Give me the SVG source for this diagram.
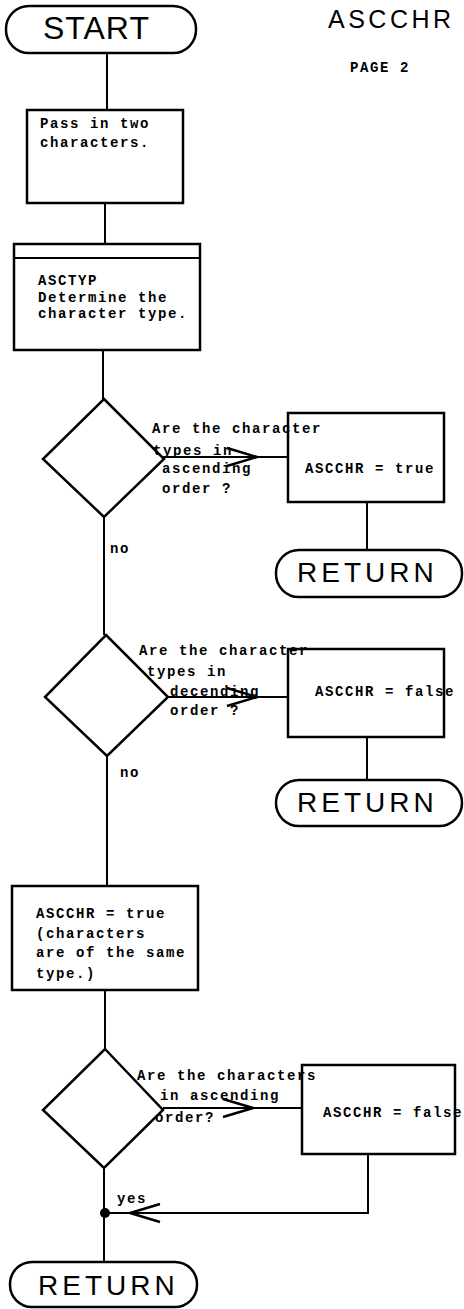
<svg xmlns="http://www.w3.org/2000/svg" width="464" height="1309" viewBox="0 0 464 1309">
<style>
.b{fill:none;stroke:#000;stroke-width:2.5}
.c{fill:none;stroke:#000;stroke-width:2}
.t{font-family:"Liberation Mono",monospace;font-weight:bold;font-size:14px;letter-spacing:1.6px;fill:#000}
.term{font-family:"Liberation Sans",Arial,sans-serif;fill:#000}
</style>
<defs>
<marker id="v" markerUnits="userSpaceOnUse" markerWidth="40" markerHeight="30" refX="0" refY="0" orient="auto" overflow="visible" viewBox="-35 -15 40 30">
<path d="M-30,-9 L0,0 L-30,9" fill="none" stroke="#000" stroke-width="2.5"/>
</marker>
</defs>
<rect width="464" height="1309" fill="#fff"/>
<g id="title">
<text class="term" x="328" y="28" font-size="25" letter-spacing="3.5">ASCCHR</text>
<text class="t" x="350" y="72" font-size="11" letter-spacing="4">PAGE 2</text>
</g>
<g id="connectors">
<path class="c" d="M107,53 V110"/>
<path class="c" d="M105,203 V244"/>
<path class="c" d="M103,350 V400"/>
<path class="c" d="M163,457 L257,457 L288,457" marker-mid="url(#v)"/>
<path class="c" d="M367,502 V550"/>
<path class="c" d="M104,517 V635"/>
<path class="c" d="M168,697 L257,697 L288,697" marker-mid="url(#v)"/>
<path class="c" d="M367,737 V780"/>
<path class="c" d="M107,756 V886"/>
<path class="c" d="M105,990 V1049"/>
<path class="c" d="M163,1108 L253,1108 L302,1108" marker-mid="url(#v)"/>
<path class="c" d="M368,1154 V1213 H130"/>
<path class="c" d="M160,1213 L130,1213 L105,1213" marker-mid="url(#v)"/>
<path class="c" d="M104,1168 V1262"/>
<circle cx="105" cy="1213" r="5" fill="#000"/>
<text class="t" x="110" y="553">no</text>
<text class="t" x="120" y="777">no</text>
<text class="t" x="117" y="1203">yes</text>
</g>
<g id="start">
<rect class="b" x="6" y="6" width="190" height="47" rx="23"/>
<text class="term" x="43" y="39" font-size="32" letter-spacing="1">START</text>
</g>
<g id="pass">
<rect class="b" x="27" y="110" width="156" height="93"/>
<text class="t" x="40" y="128">Pass in two</text>
<text class="t" x="40" y="147">characters.</text>
</g>
<g id="asctyp">
<rect class="b" x="14" y="244" width="186" height="106"/>
<line class="c" x1="14" y1="258" x2="200" y2="258"/>
<text class="t" x="38" y="285">ASCTYP</text>
<text class="t" x="38" y="302">Determine the</text>
<text class="t" x="38" y="318">character type.</text>
</g>
<g id="dec1">
<path class="b" d="M104,399 L164,459 L104,517 L43,459 Z"/>
<text class="t" x="152" y="433">Are the character</text>
<text class="t" x="153" y="455">types in</text>
<text class="t" x="162" y="473">ascending</text>
<text class="t" x="162" y="493">order ?</text>
</g>
<g id="true1">
<rect class="b" x="288" y="413" width="156" height="89"/>
<text class="t" x="305" y="473">ASCCHR = true</text>
</g>
<g id="ret1">
<rect class="b" x="276" y="550" width="186" height="47" rx="23"/>
<text class="term" x="297" y="582" font-size="28" letter-spacing="4">RETURN</text>
</g>
<g id="dec2">
<path class="b" d="M106,635 L168,697 L107,756 L45,697 Z"/>
<text class="t" x="139" y="655">Are the character</text>
<text class="t" x="147" y="676">types in</text>
<text class="t" x="170" y="696">decending</text>
<text class="t" x="170" y="715">order ?</text>
</g>
<g id="false1">
<rect class="b" x="288" y="649" width="156" height="88"/>
<text class="t" x="315" y="696">ASCCHR = false</text>
</g>
<g id="ret2">
<rect class="b" x="276" y="780" width="186" height="46" rx="23"/>
<text class="term" x="297" y="812" font-size="28" letter-spacing="4">RETURN</text>
</g>
<g id="same">
<rect class="b" x="12" y="886" width="186" height="104"/>
<text class="t" x="36" y="918">ASCCHR = true</text>
<text class="t" x="36" y="938">(characters</text>
<text class="t" x="36" y="957">are of the same</text>
<text class="t" x="36" y="978">type.)</text>
</g>
<g id="dec3">
<path class="b" d="M105,1049 L163,1110 L104,1168 L43,1110 Z"/>
<text class="t" x="137" y="1080">Are the characters</text>
<text class="t" x="160" y="1100">in ascending</text>
<text class="t" x="155" y="1122">order?</text>
</g>
<g id="false2">
<rect class="b" x="302" y="1065" width="153" height="89"/>
<text class="t" x="323" y="1117">ASCCHR = false</text>
</g>
<g id="ret3">
<rect class="b" x="10" y="1262" width="187" height="45" rx="22"/>
<text class="term" x="38" y="1295" font-size="28" letter-spacing="4">RETURN</text>
</g>
</svg>
